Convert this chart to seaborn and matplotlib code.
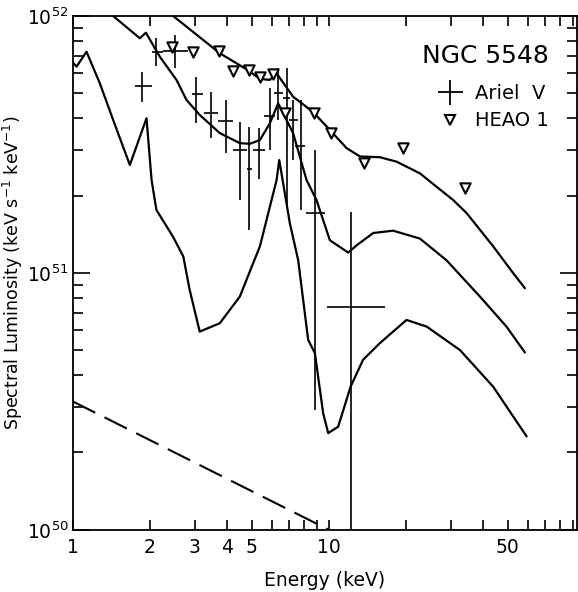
import matplotlib
matplotlib.use('Agg')
import matplotlib.pyplot as plt
import matplotlib.ticker as mticker
from matplotlib.lines import Line2D
import seaborn as sns
import pandas as pd
import numpy as np

# Ariel V points (energy keV, luminosity) with asymmetric error ranges
ariel_e = [1.855, 2.12, 2.50, 3.04, 3.48, 3.98, 4.49, 4.88, 5.33, 5.88, 6.34, 6.84, 7.25, 7.75, 8.82, 12.2]
ariel_l = [5.34e51, 7.26e51, 7.33e51, 4.96e51, 4.18e51, 3.91e51, 3.01e51, 2.53e51, 3.01e51, 4.08e51,
           5.03e51, 4.81e51, 3.94e51, 3.12e51, 1.71e51, 7.39e50]
ariel_l_hi = [6.07e51, 8.19e51, 8.44e51, 5.81e51, 5.07e51, 4.71e51, 3.88e51, 3.71e51, 3.66e51, 5.24e51,
              6.28e51, 6.28e51, 4.71e51, 4.71e51, 3.01e51, 1.72e51]
ariel_l_lo = [4.64e51, 6.36e51, 6.25e51, 3.82e51, 3.34e51, 2.93e51, 1.92e51, 1.47e51, 2.33e51, 3.01e51,
              3.93e51, 1.84e51, 2.75e51, 1.76e51, 2.93e50, 5.0e49]
ariel_e_lo = [1.747, 2.03, 2.25, 2.91, 3.25, 3.68, 4.21, 4.77, 5.04, 5.57, 6.10, 6.60, 7.00, 7.40, 8.17, 9.8]
ariel_e_hi = [2.03, 2.25, 2.82, 3.23, 3.68, 4.22, 4.77, 5.00, 5.62, 6.15, 6.60, 7.05, 7.60, 8.10, 9.62, 16.5]

# HEAO 1 points
heao_e = [2.44, 2.94, 3.73, 4.21, 4.87, 5.38, 6.03, 6.75, 8.76, 10.15, 13.7, 19.4, 34.0]
heao_l = [7.60e51, 7.26e51, 7.33e51, 6.11e51, 6.17e51, 5.78e51, 5.95e51, 4.18e51, 4.18e51,
          3.50e51, 2.67e51, 3.07e51, 2.14e51]

# model curves
top_e = [2.465, 3.75, 4.77, 5.38, 5.88, 6.25, 7.25, 8.68, 10.09, 11.73, 13.22, 15.82, 18.39,
         22.68, 30.6, 34.5, 43.8, 52.5, 58.3]
top_l = [1.0e52, 7.16e51, 6.20e51, 5.69e51, 5.64e51, 5.98e51, 4.85e51, 4.23e51, 3.60e51, 3.06e51,
         2.84e51, 2.82e51, 2.71e51, 2.44e51, 1.92e51, 1.71e51, 1.27e51, 9.97e50, 8.72e50]

mid_e = [1.437, 1.827, 1.929, 2.187, 2.54, 2.78, 3.13, 3.75, 4.49, 4.91, 5.38, 5.88, 6.34, 7.25,
         8.18, 8.95, 10.09, 11.9, 12.83, 14.9, 17.84, 22.68, 28.8, 38.9, 49.4, 58.3]
mid_l = [1.0e52, 8.19e51, 8.61e51, 6.94e51, 5.64e51, 4.71e51, 4.12e51, 3.50e51, 3.20e51, 3.18e51,
         3.29e51, 3.82e51, 4.57e51, 3.50e51, 2.30e51, 1.92e51, 1.34e51, 1.20e51, 1.28e51, 1.43e51,
         1.46e51, 1.36e51, 1.12e51, 8.09e50, 6.18e50, 4.90e50]

low_e = [1.0, 1.034, 1.131, 1.275, 1.437, 1.670, 1.94, 2.03, 2.12, 2.465, 2.70, 2.86, 3.13, 3.75,
         4.49, 5.38, 6.25, 6.40, 7.04, 7.59, 8.30, 8.82, 9.50, 9.94, 10.87, 12.16, 13.6, 15.82,
         20.1, 24.1, 32.5, 43.8, 59.2]
low_l = [6.6e51, 6.35e51, 7.26e51, 5.47e51, 3.94e51, 2.63e51, 4.00e51, 2.30e51, 1.76e51, 1.38e51,
         1.16e51, 8.59e50, 5.91e50, 6.37e50, 8.09e50, 1.27e51, 2.30e51, 2.75e51, 1.56e51, 1.12e51,
         5.49e50, 4.87e50, 2.84e50, 2.38e50, 2.52e50, 3.61e50, 4.59e50, 5.33e50, 6.56e50, 6.18e50,
         5.01e50, 3.61e50, 2.31e50]

# dashed power law
dash_e = [1.0, 10.0]
dash_l = [3.16e50, 1.0e50]

sns.set_style('ticks')
plt.rcParams['font.family'] = ['DejaVu Sans']
plt.rcParams['text.color'] = 'black'
plt.rcParams['axes.labelcolor'] = 'black'

fig = plt.figure(figsize=(5.78, 5.92), dpi=100)
ax = fig.add_axes([0.126, 0.105, 0.872, 0.868])

curves = pd.concat([
    pd.DataFrame({'E': top_e, 'L': top_l, 'model': 'top'}),
    pd.DataFrame({'E': mid_e, 'L': mid_l, 'model': 'mid'}),
    pd.DataFrame({'E': low_e, 'L': low_l, 'model': 'low'}),
])
sns.lineplot(data=curves, x='E', y='L', units='model', estimator=None, sort=False,
             color='black', lw=1.6, ax=ax, legend=False)
sns.lineplot(x=dash_e, y=dash_l, color='black', lw=1.5, ax=ax, linestyle=(0, (12, 5)))

ae = np.array(ariel_e)
al = np.array(ariel_l)
ax.errorbar(ae, al,
            yerr=[al - np.array(ariel_l_lo), np.array(ariel_l_hi) - al],
            xerr=[ae - np.array(ariel_e_lo), np.array(ariel_e_hi) - ae],
            fmt='none', ecolor='black', elinewidth=1.2, capsize=0)

sns.scatterplot(x=heao_e, y=heao_l, marker='v', s=55, facecolor='white',
                edgecolor='black', linewidth=1.5, ax=ax, zorder=5)

ax.set_xscale('log')
ax.set_yscale('log')
ax.set_xlim(1, 93)
ax.set_ylim(1e50, 1e52)

ax.xaxis.set_major_locator(mticker.FixedLocator([1, 2, 3, 4, 5, 10, 50]))
ax.xaxis.set_major_formatter(mticker.FixedFormatter(['1', '2', '3', '4', '5', '10', '50']))
ax.xaxis.set_minor_locator(mticker.FixedLocator([6, 7, 8, 9, 20, 30, 40, 60, 70, 80, 90]))
ax.xaxis.set_minor_formatter(mticker.NullFormatter())
ax.yaxis.set_major_locator(mticker.LogLocator(base=10, numticks=5))
ax.yaxis.set_minor_locator(mticker.LogLocator(base=10, subs=np.arange(2, 10), numticks=20))

ax.tick_params(which='both', direction='in', top=True, right=True, colors='black', labelsize=13.5)
ax.tick_params(axis='x', which='both', length=7, width=1.2, pad=6)
ax.tick_params(axis='y', which='major', length=12, width=1.2, pad=3)
ax.tick_params(axis='y', which='minor', length=7, width=1.2)
for s in ax.spines.values():
    s.set_linewidth(1.3)
    s.set_color('black')

ax.set_xlabel('Energy (keV)', fontsize=13.5, labelpad=10)
ax.set_ylabel('Spectral Luminosity (keV s$^{-1}$ keV$^{-1}$)', fontsize=12.5, labelpad=2)
ax.yaxis.set_label_coords(-0.095, 0.5)

handles = [
    Line2D([], [], marker='+', markersize=18, markeredgewidth=1.3, color='black', lw=0),
    Line2D([], [], marker='v', markersize=7, markerfacecolor='white', markeredgecolor='black',
           markeredgewidth=1.5, lw=0),
]
leg = ax.legend(handles, ['Ariel  V', 'HEAO 1'], title='NGC 5548', loc='upper right',
                bbox_to_anchor=(0.945, 0.946), frameon=False, fontsize=14,
                title_fontsize=18, alignment='right', handletextpad=0.3, labelspacing=0.45,
                borderaxespad=0, borderpad=0)
leg._legend_box.sep = 11.5

fig.savefig('out.png', dpi=100)
